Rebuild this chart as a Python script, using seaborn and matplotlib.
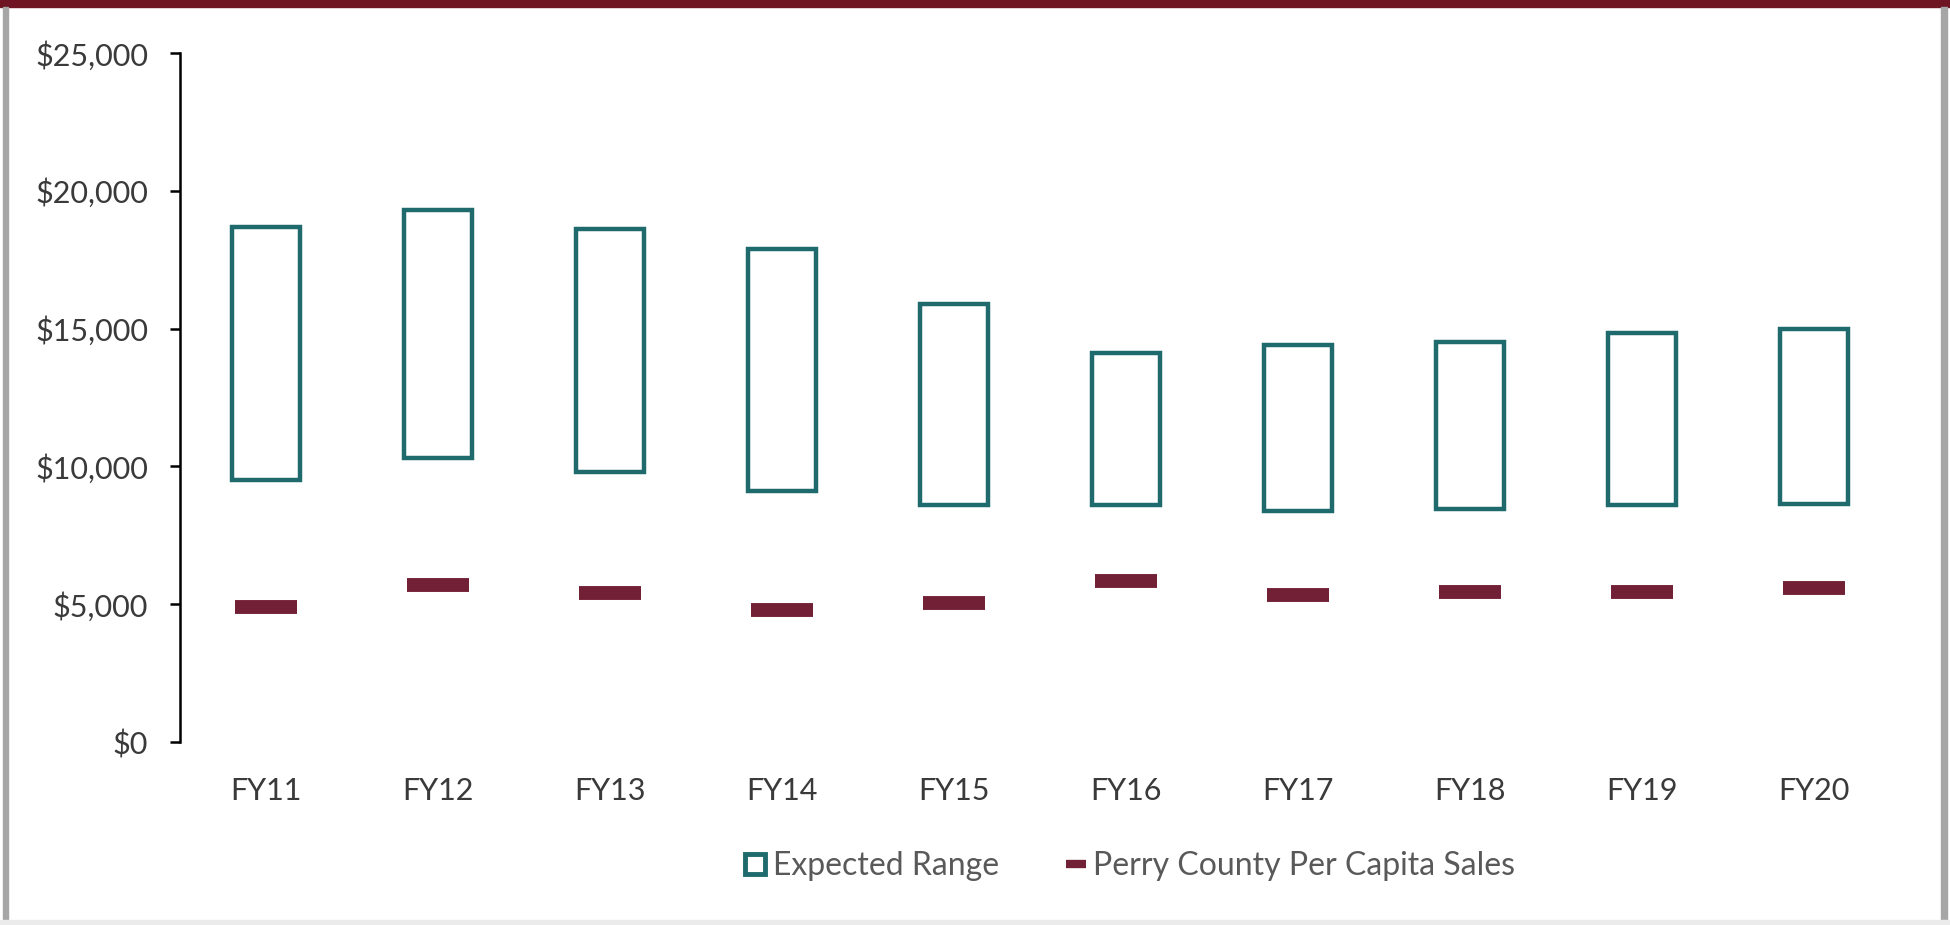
import pandas as pd
import seaborn as sns
import matplotlib.pyplot as plt
from matplotlib.lines import Line2D
from matplotlib.patches import Rectangle

# data
years = ["FY11", "FY12", "FY13", "FY14", "FY15", "FY16", "FY17", "FY18", "FY19", "FY20"]
range_low = [9500, 10300, 9800, 9100, 8600, 8600, 8400, 8450, 8600, 8650]
range_high = [18700, 19300, 18600, 17900, 15900, 14100, 14400, 14500, 14850, 15000]
county_sales = [4900, 5700, 5400, 4800, 5050, 5850, 5350, 5450, 5450, 5600]
y_ticks = [0, 5000, 10000, 15000, 20000, 25000]

df = pd.DataFrame({"year": years, "low": range_low, "high": range_high, "sales": county_sales})
df["span"] = df["high"] - df["low"]

TEAL = "#1F6A6D"
RED = "#722035"
TEXT = "#3A3A3A"

sns.set_theme(style="white")
plt.rcParams["font.family"] = ["Lato", "DejaVu Sans"]

fig = plt.figure(figsize=(19.5, 9.25), dpi=100)
ax = fig.add_axes([0.0923, 0.1978, 0.8821, 0.7449])

# expected range: hollow boxes from low to high
sns.barplot(
    data=df,
    x="year",
    y="span",
    bottom=df["low"].to_numpy(),
    width=0.4,
    fill=False,
    color=TEAL,
    linewidth=3.2,
    ax=ax,
)

# county per capita sales: thick dash
sns.scatterplot(
    data=df,
    x="year",
    y="sales",
    marker="_",
    s=1930,
    linewidth=10,
    color=RED,
    edgecolor=RED,
    ax=ax,
)

ax.set_xlim(-0.5, 9.5)
ax.set_ylim(0, 25000)
ax.set_yticks(y_ticks)
ax.set_yticklabels([f"${v:,}" for v in y_ticks])
ax.set_xlabel("")
ax.set_ylabel("")

sns.despine(ax=ax, bottom=True)
ax.spines["left"].set_color("black")
ax.spines["left"].set_linewidth(1.8)
ax.tick_params(axis="y", left=True, length=7, width=1.8, color="black",
               pad=16, labelsize=22, labelcolor=TEXT)
ax.tick_params(axis="x", bottom=False, pad=19, labelsize=22, labelcolor=TEXT)

handles = [
    Line2D([], [], marker="s", markersize=14, markerfacecolor="white",
           markeredgecolor=TEAL, markeredgewidth=3.5, linestyle="none"),
    Line2D([], [], marker="_", markersize=15, markeredgecolor=RED,
           markeredgewidth=6, linestyle="none"),
]
fig.legend(handles, ["Expected Range", "Perry County Per Capita Sales"],
           loc="center", bbox_to_anchor=(0.579, 0.064), ncol=2, frameon=False,
           fontsize=23, labelcolor="#595959", handlelength=0.8,
           handletextpad=0.15, columnspacing=2.0)

# frame around the picture
fig.add_artist(Rectangle((0, 1 - 7 / 925), 1, 7 / 925, transform=fig.transFigure, color="#6E1423"))
fig.add_artist(Rectangle((3 / 1950, 0), 5 / 1950, 1 - 7 / 925, transform=fig.transFigure, color="#A6A6A6"))
fig.add_artist(Rectangle((1941 / 1950, 0), 6 / 1950, 1 - 7 / 925, transform=fig.transFigure, color="#A6A6A6"))
fig.add_artist(Rectangle((0, 0), 1, 5 / 925, transform=fig.transFigure, color="#EBEBEB"))

fig.savefig("out.png", dpi=100)
plt.close()
